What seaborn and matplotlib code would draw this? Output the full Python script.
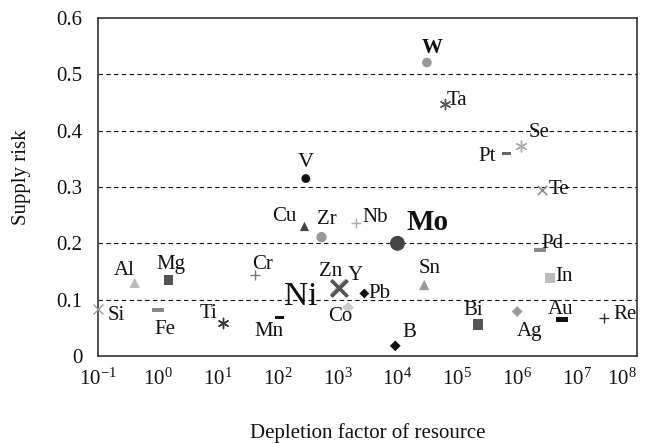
import numpy as np
import pandas as pd
import matplotlib
matplotlib.use("Agg")
import matplotlib.pyplot as plt
import seaborn as sns
from matplotlib.ticker import FixedLocator, FuncFormatter, LogLocator, NullLocator

# ---- data ----
elements = ["W", "Ta", "Se", "Pt", "Te", "V", "Cu", "Zr", "Nb", "Mo",
            "Al", "Mg", "Cr", "Zn", "Y", "Ni", "Pb", "Co", "Sn", "Pd",
            "In", "Bi", "Ag", "Au", "Re", "B", "Si", "Fe", "Ti", "Mn"]
depletion = [3.1e4, 6.2e4, 1.15e6, 6.6e5, 2.6e6, 2.95e2, 2.8e2, 5.4e2, 2.0e3, 1.0e4,
             4.1e-1, 1.5e0, 4.2e1, 1.0e3, 1.0e3, 1.05e3, 2.8e3, 1.5e3, 2.8e4, 2.4e6,
             3.5e6, 2.2e5, 1.0e6, 5.6e6, 2.8e7, 9.2e3, 1.0e-1, 1.0e0, 1.2e1, 1.07e2]
supply_risk = [0.521, 0.447, 0.372, 0.360, 0.295, 0.315, 0.230, 0.211, 0.236, 0.200,
               0.130, 0.135, 0.143, 0.122, 0.122, 0.120, 0.111, 0.086, 0.126, 0.188,
               0.138, 0.056, 0.079, 0.065, 0.068, 0.018, 0.083, 0.082, 0.058, 0.068]
y_ticks = [0, 0.1, 0.2, 0.3, 0.4, 0.5, 0.6]

df = pd.DataFrame({"element": elements, "depletion": depletion, "risk": supply_risk})

# ---- styles ----
dash = [(-1, -0.38), (1, -0.38), (1, 0.38), (-1, 0.38), (-1, -0.38)]
star = (6, 2, 0)
style = {
    # marker, color, size(s), linewidth
    "W":  ("o", "#9a9a9a", 48, 0),
    "Ta": (star, "#555555", 55, 1.0),
    "Se": (star, "#aaaaaa", 60, 1.0),
    "Pt": (dash, "#666666", 40, 0),
    "Te": ("x", "#888888", 45, 1.1),
    "V":  ("o", "#111111", 40, 0),
    "Cu": ("^", "#444444", 45, 0),
    "Zr": ("o", "#999999", 55, 0),
    "Nb": ("+", "#aaaaaa", 55, 1.0),
    "Mo": ("o", "#444444", 115, 0),
    "Al": ("^", "#bbbbbb", 55, 0),
    "Mg": ("s", "#555555", 45, 0),
    "Cr": ("+", "#777777", 55, 1.0),
    "Zn": ("x", "#aaaaaa", 110, 2.0),
    "Y":  ("x", "#aaaaaa", 110, 2.0),
    "Ni": ("x", "#555555", 140, 2.6),
    "Pb": ("D", "#111111", 25, 0),
    "Co": ("D", "#cccccc", 35, 0),
    "Sn": ("^", "#999999", 55, 0),
    "Pd": (dash, "#888888", 70, 0),
    "In": ("s", "#bbbbbb", 55, 0),
    "Bi": ("s", "#555555", 55, 0),
    "Ag": ("D", "#999999", 30, 0),
    "Au": (dash, "#111111", 70, 0),
    "Re": ("+", "#333333", 50, 1.0),
    "B":  ("D", "#111111", 30, 0),
    "Si": ("x", "#999999", 50, 1.0),
    "Fe": (dash, "#888888", 70, 0),
    "Ti": (star, "#333333", 55, 1.0),
    "Mn": (dash, "#111111", 45, 0),
}
# label offsets in pixels (dx right, dy up), font size, weight
F = 15
labels = {
    "W": (5, 15, F, "bold"), "Ta": (12, 4, F, "normal"), "Se": (18, 14, F, "normal"),
    "Pt": (-19, -3, F, "normal"), "Te": (17, 0, F, "normal"), "V": (0, 16, 16, "normal"),
    "Cu": (-20, 10, F, "normal"), "Zr": (5, 18, F, "normal"), "Nb": (20, 6, F, "normal"),
    "Mo": (30, 21, 21, "bold"), "Al": (-10, 12, F, "normal"), "Mg": (2, 15, F, "normal"),
    "Cr": (7, 11, F, "normal"), "Zn": (-7, 16, F, "normal"), "Y": (18, 12, F, "normal"),
    "Ni": (-38, -8, 24, "normal"), "Pb": (15, 0, F, "normal"), "Co": (-8, -9, F, "normal"),
    "Sn": (5, 17, F, "normal"), "Pd": (12, 7, F, "normal"), "In": (14, 2, F, "normal"),
    "Bi": (-5, 14, F, "normal"), "Ag": (12, -20, F, "normal"), "Au": (-1, 10, F, "normal"),
    "Re": (21, 3, F, "normal"), "B": (14, 13, F, "normal"), "Si": (18, -6, F, "normal"),
    "Fe": (7, -20, F, "normal"), "Ti": (-14, 10, F, "normal"), "Mn": (-10, -14, F, "normal"),
}

sns.set_style("white")
plt.rcParams["font.family"] = ["Liberation Serif", "DejaVu Serif"]
plt.rcParams["mathtext.fontset"] = "custom"
plt.rcParams["mathtext.rm"] = "Liberation Serif"
plt.rcParams["mathtext.it"] = "Liberation Serif:italic"
plt.rcParams["mathtext.default"] = "regular"

fig = plt.figure(figsize=(6.5, 4.43), dpi=100)
ax = fig.add_axes([98 / 650, 1 - 356 / 443, (637 - 98) / 650, (356 - 18) / 443])

order = ["Zn", "Y"] + [e for e in elements if e not in ("Zn", "Y")]
for el in order:
    row = df[df["element"] == el]
    m, c, s, lw = style[el]
    kw = dict(marker=m, s=s, color=c, linewidth=lw, legend=False, ax=ax, zorder=3)
    if lw == 0:
        kw["edgecolor"] = "none"
    sns.scatterplot(data=row, x="depletion", y="risk", **kw)
for coll in ax.collections:
    coll.set_clip_on(False)

ax.set_xscale("log")
ax.set_xlim(1e-1, 1e8)
ax.set_ylim(0, 0.6)

for el in elements:
    row = df[df["element"] == el].iloc[0]
    dx, dy, fs, fw = labels[el]
    ax.annotate(el, (row["depletion"], row["risk"]), xytext=(dx, dy),
                textcoords="offset pixels", ha="center", va="center",
                fontsize=fs, fontweight=fw, color="#111111", zorder=4)

ax.xaxis.set_major_locator(LogLocator(base=10, numticks=20))
ax.xaxis.set_minor_locator(NullLocator())
ax.yaxis.set_major_locator(FixedLocator(y_ticks))
ax.yaxis.set_major_formatter(FuncFormatter(lambda v, p: "0" if abs(v) < 1e-9 else f"{v:.1f}"))

ax.tick_params(axis="both", direction="in", length=5, width=1, color="#333333",
               labelsize=15, labelcolor="#111111")
ax.tick_params(axis="x", pad=9)
ax.tick_params(axis="y", pad=11)

for sp in ax.spines.values():
    sp.set_visible(True)
    sp.set_color("#333333")
    sp.set_linewidth(1.2)

for yv in y_ticks[1:-1]:
    ax.axhline(yv, color="#111111", linestyle=(0, (4, 3)), linewidth=0.8, zorder=1)

ax.set_xlabel("Depletion factor of resource", fontsize=15, color="#111111")
ax.set_ylabel("Supply risk", fontsize=15, color="#111111")
ax.xaxis.set_label_coords(0.5, -0.198)
ax.yaxis.set_label_coords(-0.125, 0.53)

fig.canvas.draw()
xt = ax.get_xticklabels()
visible = [t for t in xt if 1e-1 * 0.99 <= t.get_position()[0] <= 1e8 * 1.01]
if visible:
    visible[-1].set_horizontalalignment("right")
    visible[-1].set_x(1e8)

fig.savefig("out.png", dpi=100)
